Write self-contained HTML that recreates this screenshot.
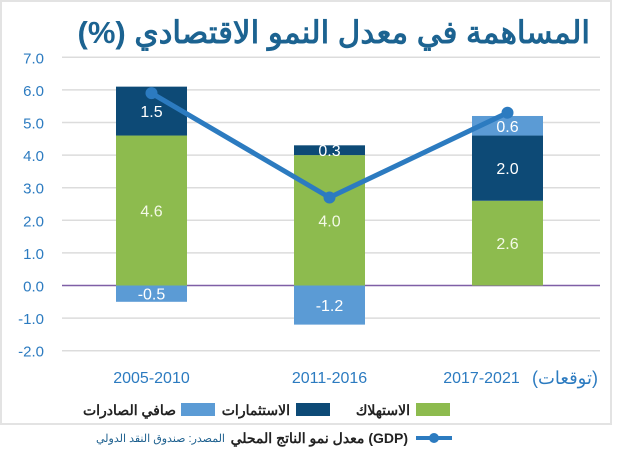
<!DOCTYPE html>
<html><head><meta charset="utf-8"><style>
body{margin:0;background:#fff;position:relative;width:620px;height:465px;overflow:hidden}
svg{display:block;font-family:"Liberation Sans","Noto Sans CJK SC",sans-serif}
#title{position:absolute;right:30px;top:13px;width:570px;text-align:right;font-family:"Liberation Sans","Noto Sans CJK SC",sans-serif;font-size:31px;font-weight:bold;color:#1c6391;white-space:nowrap;line-height:40px}
</style></head><body>
<svg width="620" height="465" viewBox="0 0 620 465">
<rect x="1" y="1" width="610" height="423" fill="none" stroke="#e3e3e3" stroke-width="2"/>
<g id="grid"></g><g id="bars"></g><g id="line"></g>
<g font-size="14" fill="#222">
<rect x="416" y="403" width="34" height="13" fill="#8dbb4e"/>
<text x="410" y="415" text-anchor="end" font-weight="bold">الاستهلاك</text>
<rect x="296" y="403" width="34" height="13" fill="#0d4a76"/>
<text x="290" y="415" text-anchor="end" font-weight="bold">الاستثمارات</text>
<rect x="181" y="403" width="34" height="13" fill="#5b9bd5"/>
<text x="176" y="415" text-anchor="end" font-weight="bold">صافي الصادرات</text>
<line x1="416" y1="438" x2="452" y2="438" stroke="#2c7bc0" stroke-width="4"/>
<circle cx="434" cy="438" r="5" fill="#2c7bc0"/>
<text x="408" y="443" text-anchor="end" font-weight="bold">معدل نمو الناتج المحلي (GDP)</text>
<text x="225" y="442" text-anchor="end" font-size="11" fill="#1c5f8e">المصدر: صندوق النقد الدولي</text>
</g>
</svg>
<div id="title" dir="rtl">المساهمة في معدل النمو الاقتصادي (%)</div>
<script>
const categories=["2005-2010","2011-2016","2017-2021"];
const consumption=[4.6,4.0,2.6];
const investment=[1.5,0.3,2.0];
const netExports=[-0.5,-1.2,0.6];
const gdp=[5.9,2.7,5.3];
const yTicks=[7,6,5,4,3,2,1,0,-1,-2];
const NS="http://www.w3.org/2000/svg";
function y(v){return 285.5-v*32.6;}
function xc(i){return 151.5+i*178;}
function mk(t,a,p){const e=document.createElementNS(NS,t);for(const k in a)e.setAttribute(k,a[k]);p.appendChild(e);return e;}
const grid=document.getElementById('grid'),bars=document.getElementById('bars'),line=document.getElementById('line');
yTicks.forEach(v=>{
 const l=mk('line',{x1:62,x2:600,y1:y(v),y2:y(v),stroke:v===0?'#7f5fa6':'#dcdcdc','stroke-width':1.5},grid);
 
 
 const t=mk('text',{x:44,y:y(v)+6,'text-anchor':'end','font-size':15,fill:'#2c7bc0'},grid);
 t.textContent=v.toFixed(1);
 
 
});
function seg(i,b,t,col,val,name,tc){
 const r=mk('rect',{x:xc(i)-35.5,width:71,y:Math.min(y(b),y(t)),height:Math.abs(y(t)-y(b)),fill:col},bars);
 
 
 const tx=mk('text',{x:xc(i),y:(y(b)+y(t))/2+6,'text-anchor':'middle','font-size':16,fill:tc},bars);
 tx.textContent=val.toFixed(1);
 
 
}
categories.forEach((c,i)=>{
 seg(i,0,consumption[i],'#8dbb4e',consumption[i],'bar-consumption-'+i,'#f3f9e6');
 seg(i,consumption[i],consumption[i]+investment[i],'#0d4a76',investment[i],'bar-investment-'+i,'#fff');
 if(netExports[i]<0) seg(i,0,netExports[i],'#5b9bd5',netExports[i],'bar-net-exports-'+i,'#fff');
 else seg(i,consumption[i]+investment[i],consumption[i]+investment[i]+netExports[i],'#5b9bd5',netExports[i],'bar-net-exports-'+i,'#fff');
 const last=i===categories.length-1;
 const t=mk('text',{x:last?xc(i)-26:xc(i),y:383,'text-anchor':'middle','font-size':16,fill:'#2c7bc0'},grid);
 t.textContent=c;
 
 
});
const f=mk('text',{x:598,y:384,'text-anchor':'end','font-size':18,fill:'#2c7bc0'},grid);
f.textContent='(توقعات)';


const pl=mk('polyline',{points:gdp.map((v,i)=>xc(i)+','+y(v)).join(' '),fill:'none',stroke:'#2c7bc0','stroke-width':5},line);


gdp.forEach((v,i)=>{
 const c=mk('circle',{cx:xc(i),cy:y(v),r:6,fill:'#2c7bc0'},line);
 
 
});
</script>
</body></html>
